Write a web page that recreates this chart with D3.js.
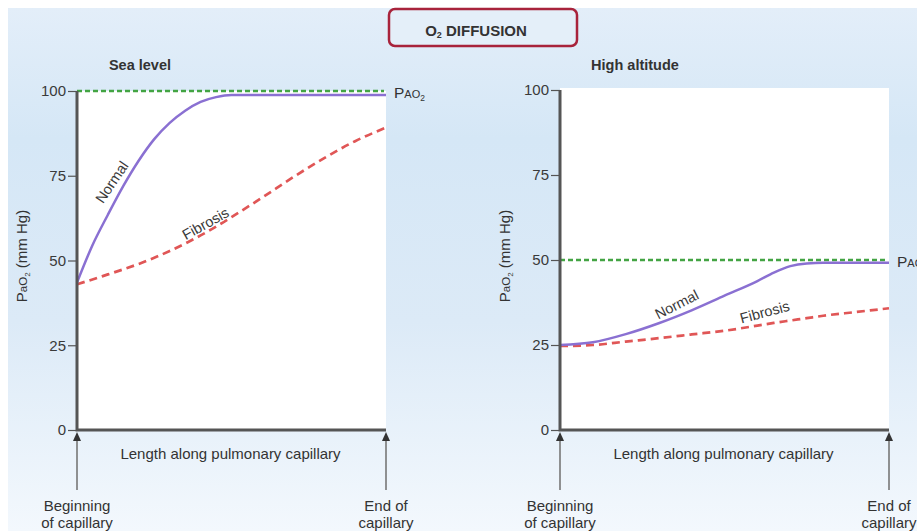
<!DOCTYPE html>
<html>
<head>
<meta charset="utf-8">
<script src="https://cdn.jsdelivr.net/npm/d3@7"></script>
<style>
  body { margin: 0; background: #fff; }
  svg { display: block; font-family: "Liberation Sans", Arial, sans-serif; }
</style>
</head>
<body>
<svg id="chart" width="917" height="531"></svg>
<script>

// ---- data (x = fraction of capillary length, y = mm Hg) ----
var yTicks = [0, 25, 50, 75, 100];

var seaLevelX        = [0, 0.05, 0.1, 0.15, 0.2, 0.25, 0.3, 0.35, 0.4, 0.45, 0.5, 0.6, 0.7, 0.8, 0.9, 1];
var seaLevelNormal   = [43.5, 54.5, 63.5, 72, 79.5, 85.8, 90.6, 94.2, 96.8, 98.2, 98.8, 98.8, 98.8, 98.8, 98.8, 98.8];
var seaLevelFibrosis = [43, 44.4, 45.9, 47.4, 49, 50.8, 52.8, 55, 57.4, 60, 62.8, 68.6, 74.6, 80.2, 85.2, 89.2];
var seaLevelPAO2     = 100;

var altitudeX        = [0, 0.1, 0.2, 0.3, 0.4, 0.5, 0.6, 0.65, 0.7, 0.75, 0.8, 0.9, 1];
var altitudeNormal   = [25, 25.8, 28.2, 31.4, 35.2, 39.5, 43.8, 46.3, 48.2, 49, 49.2, 49.2, 49.2];
var altitudeFibrosis = [24.7, 25, 26, 27, 28.1, 29.2, 30.7, 31.5, 32.2, 32.9, 33.6, 34.7, 35.8];
var altitudePAO2     = 50;

var svg = d3.select("#chart");

/* background panel with soft blue gradient */
var defs = svg.append("defs");
var grad = defs.append("linearGradient").attr("id", "bg").attr("x1", 0).attr("y1", 0).attr("x2", 0).attr("y2", 1);
grad.append("stop").attr("offset", "0%").attr("stop-color", "#e3eef9");
grad.append("stop").attr("offset", "25%").attr("stop-color", "#d5e7f6");
grad.append("stop").attr("offset", "60%").attr("stop-color", "#dceaf7");
grad.append("stop").attr("offset", "100%").attr("stop-color", "#f3f8fd");

svg.append("rect").attr("x", 8).attr("y", 8).attr("width", 909).attr("height", 523).attr("fill", "url(#bg)");

/* header box */
svg.append("rect")
   .attr("x", 389).attr("y", 9).attr("width", 188).attr("height", 37).attr("rx", 6)
   .attr("fill", "#e4eff9").attr("stroke", "#a8233b").attr("stroke-width", 2.5);

var head = svg.append("text").attr("x", 476).attr("y", 36).attr("text-anchor", "middle")
              .attr("font-size", 15).attr("font-weight", "bold").attr("fill", "#333");
head.append("tspan").text("O");
head.append("tspan").attr("font-size", 9).attr("dy", 2).text("2");
head.append("tspan").attr("dy", -2).text(" DIFFUSION");


function drawPanel(opts) {

  var x = d3.scaleLinear().domain([0, 1]).range(opts.xRange),
      y = d3.scaleLinear().domain([0, 100]).range([430, opts.yTop]);

  var g = svg.append("g");

  // white plot area
  g.append("rect")
   .attr("x", opts.xRange[0]).attr("y", opts.whiteTop)
   .attr("width", opts.xRange[1] - opts.xRange[0]).attr("height", 430 - opts.whiteTop)
   .attr("fill", "#fff");

  // panel title
  g.append("text").attr("x", opts.titleX).attr("y", 70).attr("text-anchor", "middle")
   .attr("font-size", 14.5).attr("font-weight", "bold").attr("fill", "#333").text(opts.title);

  // y axis ticks
  var axis = g.append("g").attr("transform", "translate(" + opts.xRange[0] + ",0)")
              .call(d3.axisLeft(y).tickValues(yTicks).tickSize(9).tickPadding(2));
  axis.select(".domain").remove();
  axis.selectAll(".tick line").attr("stroke", "#555").attr("stroke-width", 1.2);
  axis.selectAll(".tick text").attr("font-size", 15).attr("fill", "#3a3a3a")
      .attr("font-family", "'Liberation Sans', Arial, sans-serif");

  // y axis title
  var yl = g.append("text")
            .attr("transform", "translate(" + opts.yLabelX + ",256) rotate(-90)")
            .attr("text-anchor", "middle").attr("font-size", 15).attr("fill", "#333");
  yl.append("tspan").text("P");
  yl.append("tspan").attr("font-size", 11.5).text("aO");
  yl.append("tspan").attr("font-size", 8).attr("dy", 3).text("2");
  yl.append("tspan").attr("dy", -3).text(" (mm Hg)");

  // alveolar PO2 reference
  g.append("line")
   .attr("x1", x(0)).attr("x2", x(1) - 2)
   .attr("y1", y(opts.pao2)).attr("y2", y(opts.pao2))
   .attr("stroke", "#43a443").attr("stroke-width", 2.5).attr("stroke-dasharray", "5,3");

  var pl = g.append("text").attr("x", x(1) + 8).attr("y", y(opts.pao2) + 7)
            .attr("font-size", 15.5).attr("fill", "#333");
  pl.append("tspan").text("P");
  pl.append("tspan").attr("font-size", 11).text("AO");
  pl.append("tspan").attr("font-size", 8.5).attr("dy", 3).text("2");

  var line = d3.line()
               .x(function(d) { return x(d[0]); })
               .y(function(d) { return y(d[1]); })
               .curve(d3.curveMonotoneX);

  g.append("path")
   .attr("d", line(d3.zip(opts.xs, opts.fibrosis)))
   .attr("fill", "none").attr("stroke", "#e05656").attr("stroke-width", 2.7)
   .attr("stroke-dasharray", "8,5");

  g.append("path")
   .attr("d", line(d3.zip(opts.xs, opts.normal)))
   .attr("fill", "none").attr("stroke", "#8a70d2").attr("stroke-width", 2.5);

  // curve labels
  opts.labels.forEach(function(l) {
    g.append("text")
     .attr("transform", "translate(" + l.x + "," + l.y + ") rotate(" + l.angle + ")")
     .attr("text-anchor", "middle").attr("font-size", 14.5).attr("fill", "#3a3a3a")
     .attr("stroke", "#fff").attr("stroke-width", 2).attr("paint-order", "stroke")
     .text(l.text);
  });

  // heavy axis lines
  g.append("path")
   .attr("d", "M" + x(0) + "," + y(100) + "V430H" + x(1))
   .attr("fill", "none").attr("stroke", "#555").attr("stroke-width", 3);

  // arrows marking the ends of the capillary
  [0, 1].forEach(function(v) {
    var ax = x(v);
    g.append("line").attr("x1", ax).attr("x2", ax).attr("y1", 439).attr("y2", 490)
     .attr("stroke", "#777").attr("stroke-width", 1.6);
    g.append("path").attr("d", "M" + (ax - 4) + ",441L" + ax + ",432L" + (ax + 4) + ",441Z")
     .attr("fill", "#333");
  });

  g.append("text").attr("x", (x(0) + x(1)) / 2 - 1).attr("y", 459).attr("text-anchor", "middle")
   .attr("font-size", 15).attr("fill", "#333").text("Length along pulmonary capillary");

  [["Beginning", "of capillary", 0], ["End of", "capillary", 1]].forEach(function(t) {
    var tx = g.append("text").attr("x", x(t[2])).attr("y", 511).attr("text-anchor", "middle")
              .attr("font-size", 15).attr("fill", "#333");
    tx.append("tspan").attr("x", x(t[2])).text(t[0]);
    tx.append("tspan").attr("x", x(t[2])).attr("dy", 17).text(t[1]);
  });
}

drawPanel({
  title: "Sea level", titleX: 140,
  xRange: [77, 386], yTop: 91, whiteTop: 91, yLabelX: 27,
  xs: seaLevelX, normal: seaLevelNormal, fibrosis: seaLevelFibrosis, pao2: seaLevelPAO2,
  labels: [{ text: "Normal", x: 116, y: 185, angle: -56 },
           { text: "Fibrosis", x: 208, y: 228, angle: -29 }]
});

drawPanel({
  title: "High altitude", titleX: 635,
  xRange: [560, 889], yTop: 90, whiteTop: 88, yLabelX: 510,
  xs: altitudeX, normal: altitudeNormal, fibrosis: altitudeFibrosis, pao2: altitudePAO2,
  labels: [{ text: "Normal", x: 679, y: 309, angle: -27 },
           { text: "Fibrosis", x: 766, y: 317, angle: -15 }]
});

</script>
</body>
</html>
